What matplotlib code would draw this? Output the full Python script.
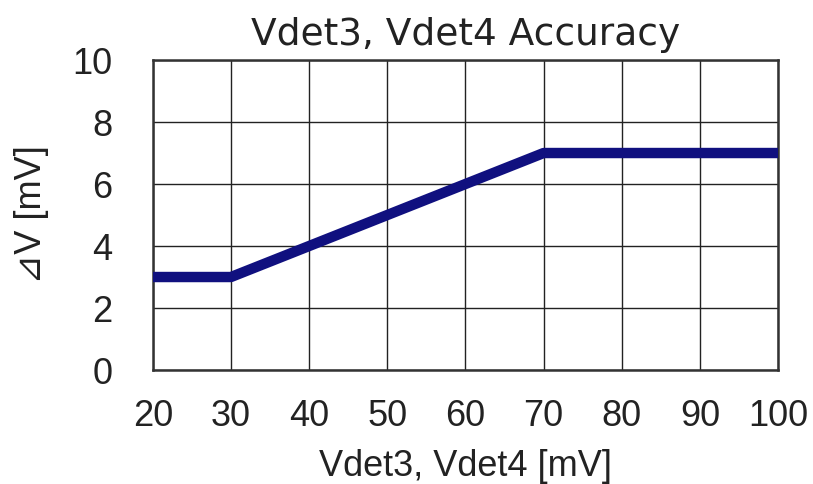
import matplotlib
matplotlib.use("Agg")
import matplotlib.pyplot as plt

# corner points of the accuracy curve
vdet = [20, 30, 70, 100]
delta_v = [3, 3, 7, 7]

x_ticks = [20, 30, 40, 50, 60, 70, 80, 90, 100]
y_ticks = [0, 2, 4, 6, 8, 10]

plt.rcParams['font.family'] = ['Liberation Sans', 'DejaVu Sans']

fig = plt.figure(figsize=(8.13, 4.84), dpi=100)
ax = fig.add_axes([0.188, 0.2355, 0.769, 0.6405])

ax.plot(vdet, delta_v, color="#10107f", linewidth=7.5, solid_capstyle="butt",
        solid_joinstyle="round", zorder=3)

ax.set_xlim(20, 100)
ax.set_ylim(0, 10)
ax.set_xticks(x_ticks)
ax.set_yticks(y_ticks)
ax.grid(True, color="#222222", linewidth=1.0)
ax.tick_params(length=0, labelsize=26, colors="#222222")
ax.tick_params(axis="x", pad=21)
ax.tick_params(axis="y", pad=29)
for s in ax.spines.values():
    s.set_color("#333333")
    s.set_linewidth(1.8)

ax.set_title("Vdet3, Vdet4 Accuracy", fontsize=27, color="#222222", pad=11,
             family=['DejaVu Sans'])
ax.set_xlabel("Vdet3, Vdet4 [mV]", fontsize=26, color="#222222", labelpad=11)
ax.set_ylabel("⊿V [mV]", fontsize=26, color="#222222", labelpad=17)

fig.savefig("out.png", dpi=100, facecolor="white")
